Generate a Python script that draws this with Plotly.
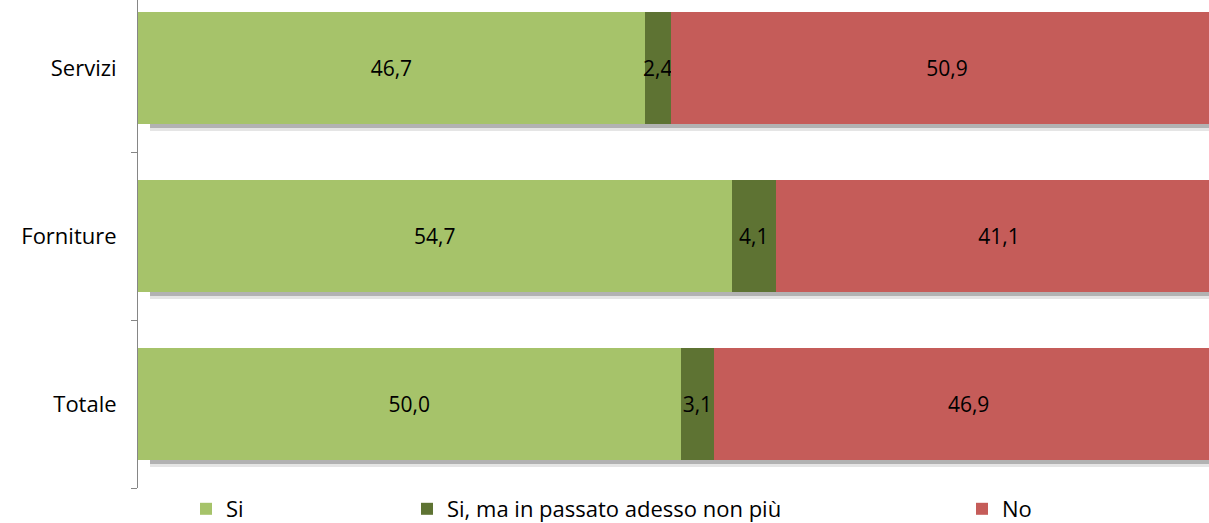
import plotly.graph_objects as go

categories = ["Totale", "Forniture", "Servizi"]
si = [50.0, 54.7, 46.7]
si_passato = [3.1, 4.1, 2.4]
no = [46.9, 41.1, 50.9]
series_names = ["Si", "Si, ma in passato adesso non più", "No"]
colors = ["#A6C36A", "#5E7333", "#C55C59"]

FONT = "Open Sans"

def fmt(v):
    return f"{v:.1f}".replace(".", ",")

totals = [a + b + c for a, b, c in zip(si, si_passato, no)]

BAND = 168.0
Y0, Y1 = -0.5, 2.5 - 16 / BAND
fig = go.Figure()

# soft drop shadow under the bars (two layers for a gradient look)
for ax, shift, alpha in [("y", 7, 0.10), ("y2", 4, 0.22)]:
    fig.add_trace(go.Bar(
        y=categories, x=[t - 1.1 for t in totals], base=1.1, orientation="h",
        marker=dict(color=f"rgba(0,0,0,{alpha})", line=dict(width=0)),
        yaxis=ax, showlegend=False, hoverinfo="skip",
    ))

legends = ["legend", "legend2", "legend3"]
for name, vals, col, lg in zip(series_names, [si, si_passato, no], colors, legends):
    fig.add_trace(go.Bar(
        y=categories, x=vals, name=name, orientation="h",
        marker=dict(color=col, line=dict(width=0)),
        text=[fmt(v) for v in vals], textposition="inside",
        insidetextanchor="middle", constraintext="none", textangle=0,
        textfont=dict(family=FONT, size=21, color="#000000"),
        legend=lg, yaxis="y3", hoverinfo="skip",
    ))

H_PLOT = 488
leg_common = dict(orientation="h", yanchor="middle", y=-21 / H_PLOT,
                  font=dict(family=FONT, size=22, color="#000000"),
                  bgcolor="rgba(0,0,0,0)", itemwidth=30, tracegroupgap=0)

hidden_y = dict(visible=False, fixedrange=True, showgrid=False)

fig.update_layout(
    width=1209, height=523,
    margin=dict(l=138, r=0, t=0, b=35, autoexpand=False),
    barmode="stack", bargap=1/3,
    paper_bgcolor="white", plot_bgcolor="white",
    font=dict(family=FONT, size=22, color="#000000"),
    xaxis=dict(range=[0, 98.7], visible=False, fixedrange=True),
    yaxis=dict(range=[Y0 + 7 / BAND, Y1 + 7 / BAND], **hidden_y),
    yaxis2=dict(range=[Y0 + 4 / BAND, Y1 + 4 / BAND], overlaying="y", **hidden_y),
    yaxis3=dict(range=[Y0, Y1], overlaying="y", side="left",
                showline=True, linecolor="#868686",
                linewidth=1, ticks="outside", tickson="boundaries", ticklen=6,
                tickcolor="#868686", showgrid=False, ticklabelstandoff=16,
                tickfont=dict(family=FONT, size=22, color="#000000")),
    legend=dict(x=(186 - 138) / 1071, **leg_common),
    legend2=dict(x=(407 - 138) / 1071, **leg_common),
    legend3=dict(x=(962 - 138) / 1071, **leg_common),
    showlegend=True,
)

fig.write_html("out.html")
